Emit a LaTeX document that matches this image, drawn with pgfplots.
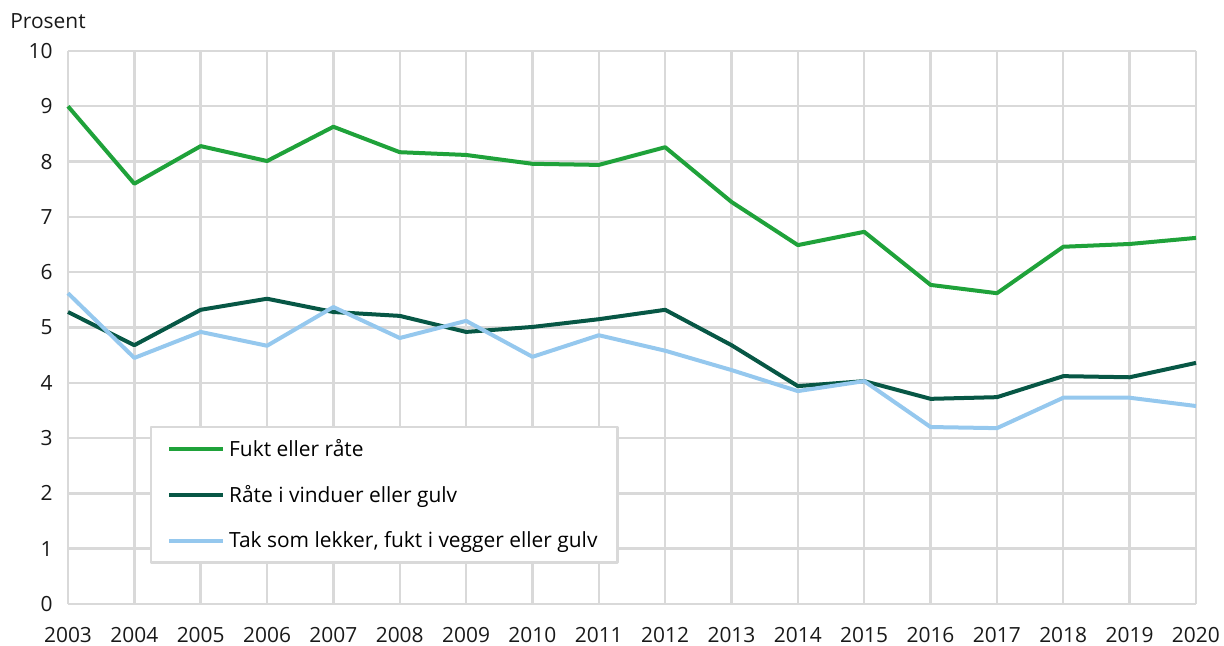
\documentclass[border=0pt]{standalone}
\usepackage{fontspec}
\setmainfont{Open Sans}
\usepackage{pgfplots}
\pgfplotsset{compat=1.18}
\definecolor{cgreen}{HTML}{1FA23A}
\definecolor{cdark}{HTML}{075745}
\definecolor{clight}{HTML}{95C8EE}
\definecolor{cgrid}{HTML}{D9D9D9}
\begin{document}
\fontsize{10.5}{12.5}\selectfont
\begin{tikzpicture}
\begin{axis}[
  scale only axis,
  width=564bp, height=276.5bp,
  xmin=2003, xmax=2020, ymin=0, ymax=10,
  xtick={2003,...,2020}, ytick={0,...,10},
  xticklabel style={/pgf/number format/1000 sep={}},
  /pgf/number format/assume math mode=true,
  axis line style={draw=none},
  major tick length=0pt,
  grid=major,
  major grid style={cgrid, line width=1.2bp},
  tick label style={font=\fontsize{10.5}{12.5}\selectfont, text=black!90},
  xticklabel style={yshift=-8bp},
  yticklabel style={xshift=-4bp},
  line join=round,
  legend style={at={(rel axis cs:0.0727,0.322)}, anchor=north west, draw=cgrid, line width=1.2bp, font=\fontsize{10.5}{12.5}\selectfont, inner xsep=8bp, inner ysep=4bp, row sep=9bp, cells={anchor=west}},
  legend image code/.code={\draw[#1, line width=2bp] (0cm,0cm) -- (27bp,0cm);},
  clip=false,
]
\addplot[cgreen, line width=2bp] coordinates {
(2003,9.00) (2004,7.60) (2005,8.28) (2006,8.01) (2007,8.63) (2008,8.17) (2009,8.12) (2010,7.96) (2011,7.94) (2012,8.26) (2013,7.27) (2014,6.49) (2015,6.73) (2016,5.77) (2017,5.62) (2018,6.46) (2019,6.51) (2020,6.62)};
\addlegendentry{Fukt eller råte}
\addplot[cdark, line width=2bp] coordinates {
(2003,5.28) (2004,4.68) (2005,5.32) (2006,5.52) (2007,5.28) (2008,5.21) (2009,4.92) (2010,5.01) (2011,5.15) (2012,5.32) (2013,4.68) (2014,3.94) (2015,4.03) (2016,3.71) (2017,3.74) (2018,4.12) (2019,4.10) (2020,4.36)};
\addlegendentry{Råte i vinduer eller gulv}
\addplot[clight, line width=2bp] coordinates {
(2003,5.62) (2004,4.45) (2005,4.92) (2006,4.67) (2007,5.37) (2008,4.81) (2009,5.12) (2010,4.47) (2011,4.86) (2012,4.58) (2013,4.23) (2014,3.85) (2015,4.03) (2016,3.20) (2017,3.18) (2018,3.73) (2019,3.73) (2020,3.58)};
\addlegendentry{Tak som lekker, fukt i vegger eller gulv}
\end{axis}
\pgfresetboundingbox
\path (-34bp,-21bp) rectangle (578bp,302bp);
\node[anchor=base west, inner sep=0pt, text=black!90] at (-29bp,287.5bp) {Prosent};
\end{tikzpicture}
\end{document}
